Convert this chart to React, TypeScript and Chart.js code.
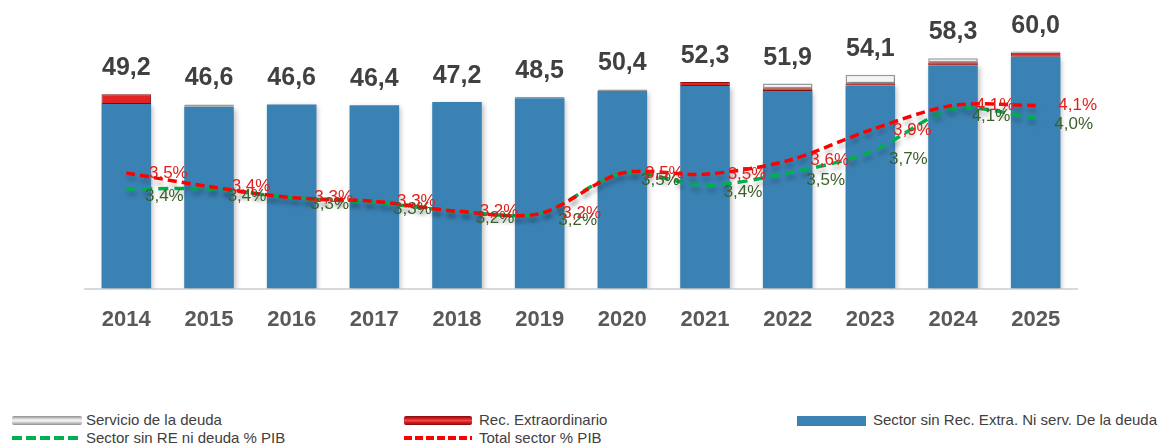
import React, { useEffect, useRef } from 'react';
import { Chart, registerables } from 'chart.js';

Chart.register(...registerables);

const YEARS = ['2014', '2015', '2016', '2017', '2018', '2019', '2020', '2021', '2022', '2023', '2024', '2025'];
const SECTOR_BASE = [46.7, 46.0, 46.6, 46.4, 47.2, 48.2, 50.0, 51.3, 50.0, 51.4, 56.5, 58.7];
const REC_EXTRA = [2.5, 0, 0, 0, 0, 0, 0, 1.0, 0.7, 0.6, 0.8, 1.0];
const SERV_DEUDA = [0, 0.6, 0, 0, 0, 0.3, 0.4, 0, 1.2, 2.1, 1.0, 0.3];
const SECTOR_SIN_RE_PIB = [3.41, 3.41, 3.34, 3.3, 3.23, 3.21, 3.54, 3.44, 3.54, 3.71, 4.06, 3.99];
const TOTAL_SECTOR_PIB = [3.54, 3.43, 3.34, 3.31, 3.23, 3.21, 3.54, 3.53, 3.64, 3.89, 4.09, 4.09];

const FONT = '"Liberation Sans", Arial, sans-serif';
const fmt = (v: number) => v.toFixed(1).replace('.', ',');

export default function App() {
  const ref = useRef<HTMLCanvasElement>(null);

  useEffect(() => {
    document.body.style.margin = '0';
    Chart.defaults.font.family = FONT;

    const shadowPlugin = {
      id: 'shadows',
      beforeDatasetDraw(chart: any, args: any) {
        const ctx = chart.ctx;
        ctx.save();
        const t = chart.data.datasets[args.index].type;
        if (t === 'line') {
          ctx.shadowColor = 'rgba(0,0,0,0.22)';
          ctx.shadowBlur = 4;
          ctx.shadowOffsetX = 1;
          ctx.shadowOffsetY = 5;
        } else {
          ctx.shadowColor = 'rgba(0,0,0,0.25)';
          ctx.shadowBlur = 5;
          ctx.shadowOffsetX = 2;
          ctx.shadowOffsetY = 2;
        }
      },
      afterDatasetDraw(chart: any) {
        chart.ctx.restore();
      },
    };

    const labelsPlugin = {
      id: 'valueLabels',
      afterDatasetsDraw(chart: any) {
        const ctx = chart.ctx;
        const xs = chart.scales.x;
        const ys = chart.scales.y;
        ctx.save();
        ctx.font = `bold 25px ${FONT}`;
        ctx.fillStyle = '#404040';
        ctx.textAlign = 'center';
        ctx.textBaseline = 'alphabetic';
        YEARS.forEach((_, i) => {
          const total = SECTOR_BASE[i] + REC_EXTRA[i] + SERV_DEUDA[i];
          ctx.fillText(fmt(total), xs.getPixelForValue(i), ys.getPixelForValue(total) - 19);
        });

        ctx.font = `17px ${FONT}`;
        ctx.textBaseline = 'middle';
        const greenMeta = chart.getDatasetMeta(3);
        ctx.fillStyle = '#3A5F2B';
        greenMeta.data.forEach((p: any, i: number) => {
          ctx.fillText(fmt(SECTOR_SIN_RE_PIB[i]) + '%', p.x + 38, p.y + 7);
        });
        const redMeta = chart.getDatasetMeta(4);
        ctx.fillStyle = '#E0201B';
        redMeta.data.forEach((p: any, i: number) => {
          ctx.fillText(fmt(TOTAL_SECTOR_PIB[i]) + '%', p.x + 42, p.y);
        });
        ctx.restore();
      },
    };

    const chart = new Chart(ref.current!, {
      type: 'bar',
      data: {
        labels: YEARS,
        datasets: [
          {
            type: 'bar',
            label: 'Sector sin Rec. Extra. Ni serv. De la deuda',
            data: SECTOR_BASE,
            backgroundColor: '#3B82B4',
            yAxisID: 'y',
            stack: 's',
            order: 3,
            barPercentage: 0.6,
            categoryPercentage: 1,
          },
          {
            type: 'bar',
            label: 'Rec. Extraordinario',
            data: REC_EXTRA.map((v) => (v ? v : null)),
            backgroundColor: '#E42424',
            borderColor: '#981212',
            borderWidth: 1,
            borderSkipped: false,
            yAxisID: 'y',
            stack: 's',
            order: 3,
            barPercentage: 0.6,
            categoryPercentage: 1,
          },
          {
            type: 'bar',
            label: 'Servicio de la deuda',
            data: SERV_DEUDA.map((v) => (v ? v : null)),
            backgroundColor: '#F4F4F4',
            borderColor: '#9E9E9E',
            borderWidth: 1.5,
            borderSkipped: false,
            yAxisID: 'y',
            stack: 's',
            order: 3,
            barPercentage: 0.6,
            categoryPercentage: 1,
          },
          {
            type: 'line',
            label: 'Sector sin RE ni deuda % PIB',
            data: SECTOR_SIN_RE_PIB,
            borderColor: '#00B050',
            borderWidth: 3.5,
            borderDash: [10, 6],
            pointRadius: 0,
            tension: 0.3,
            fill: false,
            yAxisID: 'y2',
            order: 2,
          },
          {
            type: 'line',
            label: 'Total sector % PIB',
            data: TOTAL_SECTOR_PIB,
            borderColor: '#FF0000',
            borderWidth: 3.5,
            borderDash: [9, 5],
            pointRadius: 0,
            tension: 0.3,
            fill: false,
            yAxisID: 'y2',
            order: 1,
          },
        ] as any,
      },
      options: {
        animation: false,
        responsive: false,
        maintainAspectRatio: false,
        layout: { padding: { left: 85, right: 85, top: 12, bottom: 0 } },
        plugins: {
          legend: { display: false },
          tooltip: { enabled: false },
        },
        scales: {
          x: {
            stacked: true,
            grid: { display: false },
            border: { display: true, color: '#D9D9D9', width: 2 },
            ticks: {
              color: '#595959',
              padding: 10,
              font: { size: 22, weight: 'bold', family: FONT },
            },
          },
          y: { stacked: true, display: false, min: 0, max: 70 },
          y2: { stacked: false, display: false, min: 2.6, max: 4.85 },
        },
      } as any,
      plugins: [shadowPlugin, labelsPlugin],
    });
    return () => chart.destroy();
  }, []);

  const textStyle: React.CSSProperties = {
    position: 'absolute',
    fontFamily: FONT,
    fontSize: 15,
    color: '#404040',
    lineHeight: '17px',
    whiteSpace: 'nowrap',
  };
  const sw = (left: number, top: number, width: number, height: number, bg: string, extra: React.CSSProperties = {}) => (
    <div style={{ position: 'absolute', left, top, width, height, background: bg, ...extra }} />
  );

  return (
    <div style={{ position: 'relative', width: 1162, height: 445, background: '#fff', overflow: 'hidden' }}>
      <canvas ref={ref} width={1162} height={343} style={{ position: 'absolute', left: 0, top: 0 }} />
      {sw(12, 416, 70, 9, 'linear-gradient(to bottom, #8f8f8f, #f5f5f5 45%, #e8e8e8 60%, #8f8f8f)', { borderRadius: 2 })}
      <div style={{ ...textStyle, left: 86, top: 411 }}>Servicio de la deuda</div>
      {sw(404, 416, 68, 9, 'linear-gradient(to bottom, #7d0c0c, #e52222 35%, #f24a4a 50%, #e52222 65%, #7d0c0c)', { borderRadius: 2 })}
      <div style={{ ...textStyle, left: 479, top: 411 }}>Rec. Extraordinario</div>
      {sw(797, 416, 69, 10, '#3B82B4')}
      <div style={{ ...textStyle, left: 873, top: 411 }}>Sector sin Rec. Extra. Ni serv. De la deuda</div>
      {sw(12, 436, 70, 4, 'repeating-linear-gradient(to right, #00B050 0px, #00B050 10px, transparent 10px, transparent 14px)')}
      <div style={{ ...textStyle, left: 86, top: 429 }}>Sector sin RE ni deuda % PIB</div>
      {sw(404, 436, 68, 4, 'repeating-linear-gradient(to right, #FF0000 0px, #FF0000 8px, transparent 8px, transparent 11px)')}
      <div style={{ ...textStyle, left: 479, top: 429 }}>Total sector % PIB</div>
    </div>
  );
}
